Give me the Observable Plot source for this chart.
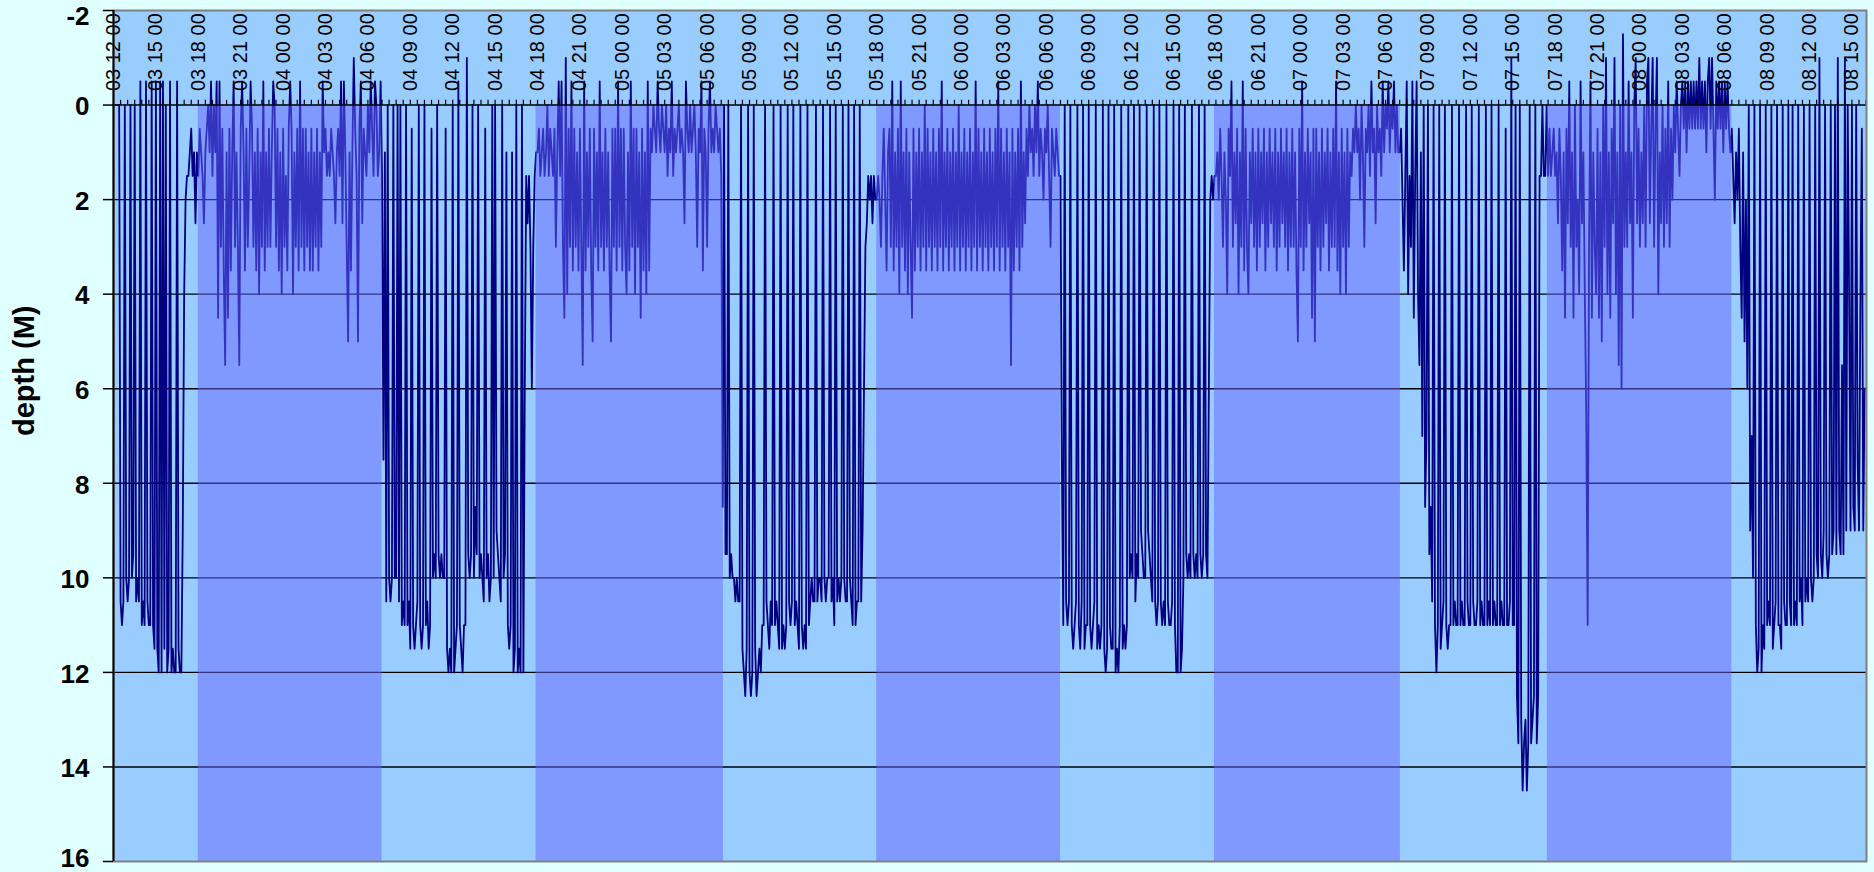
<!DOCTYPE html>
<html><head><meta charset="utf-8">
<script src="https://cdn.jsdelivr.net/npm/d3@7"></script>
<script src="https://cdn.jsdelivr.net/npm/@observablehq/plot@0.6"></script>
<style>
html,body{margin:0;padding:0;background:#E0FFFF;}
#chart{width:1874px;height:872px;}
.ylab text{font-size:29px !important;font-weight:bold !important;}
</style></head><body><div id="chart"></div>
<script>
// hours after "03 12 00"; depth samples every 0.1 h inside each segment
const STEP = 0.1;
const segA = [0,0,0,0,0,10.5,11,10.5,0,10, 10.5,10,0,10,9.5,0,10.5,10,10.5,-0.5, 11,10.5,11,-0.5,10.5,11,11,-0.5,11,11.5, -0.5,11.5,12,-0.5,12,-0.5,11.5,0,12,11.5, -0.5,12,11.5,12,12,-0.5,11.5,12,12,9, 4,2,1.5,1.5,1,0.5,1.5,1,2.5,1];
const segN1 = [1.5,0.5,1,1.5,2.5,1,0.5,0,1,-0.5, 1.5,0,1,-0.5,4.5,-0.5,3,0.5,3.5,5.5, 1,4.5,0.5,3.5,1,-0.5,3,1,3,5.5, 0.5,-0.5,1,3.5,0.5,3,1.5,-0.5,0.5,3, 1,3.5,0.5,4,1,3,-0.5,3.5,1,3, 0.5,3,1,-0.5,0,3,0.5,3.5,1,4, 0.5,3,1.5,3.5,0.5,-0.5,0.5,4,1,3, 0.5,3.5,-0.5,3,0.5,3.5,0.5,3,1,3.5, 0.5,3.5,1,3,0.5,3.5,1,3,-0.5,1, 0.5,1.5,1,1.5,0.5,1,1.5,2.5,1,0.5, 1.5,-0.5,2.5,-0.5,1,3,5,1,3.5,1, -1,0.5,1.5,5,0.5,-0.5,2.5,0.5,1,1.5, 0,1,-0.5,0.5,1.5,-0.5,0,1.5,1,-0.5];
const segB = [1.5,7.5,1,10.5,0,10,10.5,10,0,10, 10,0,10.5,0,11,10.5,11,0,11,10.5, 11.5,0.5,11,11.5,11,10.5,0,11,11.5,11, 0,11,10.5,11.5,11,0.5,10,9.5,10,0, 9.5,10,9.5,10,10,0.5,11.5,12,11.5,12, 0,12,11.5,11,-0.5,11,11.5,12,11,11, -1,9.5,10,9.5,0,10,8.5,9.5,0,10, 9.5,10,10.5,0.5,10,9.5,10.5,10,0,10, 0,9,9.5,10,10.5,0,10,9.5,1,11, 11.5,11,1,12,11.5,0,12,11.5,12,0, 12,6,1.5,2.5,1.5,3,6,3,1.5,1];
const segN2 = [1,0.5,1.5,1,0.5,1.5,1,0,1.5,0.5, 1,1.5,0.5,3,1,-0.5,1.5,-0.5,3,4.5, -1,4,0.5,3,-0.5,3.5,0.5,3,1,3.5, 0.5,3,5.5,-0.5,3.5,1,3,0.5,3.5,5, 0.5,3,1,3.5,-0.5,3,1,3.5,0.5,3, 1,3.5,5,0.5,3,0.5,3.5,-0.5,3,0.5, 3.5,0.5,3,4,1,3.5,-0.5,3,0.5,4, 0.5,3,1,4.5,0.5,3.5,1,4,-0.5,3.5, 0.5,1,0,0.5,1,-0.5,0.5,1,0,0.5, 1,0,1.5,0.5,1,-0.5,1.5,0.5,1,0.5, 0,1,0.5,1,2.5,-0.5,0.5,1,0,1, 0.5,0,1,3,0.5,1,-0.5,3.5,0.5,1, 3,0.5,-0.5,1,0.5,1,0,0.5,1,0.5];
const segC = [1.5,8.5,0,9.5,9.5,0,10,9.5,10,10, 10.5,10,10.5,10.5,0,11.5,12,12.5,11.5,0, 12,12.5,12,0,11.5,12.5,12,11.5,12,11, 11,0,10.5,11,11.5,10.5,11,0,11,10.5, 11,11.5,0,11.5,11,11.5,11,0,10.5,11, 10.5,0,11,10.5,11,11.5,0,11,11.5,11, 11.5,0,11,10.5,10,10.5,10.5,0,10.5,10, 10,10.5,0,10,10.5,10,10,0,10.5,10, 11,0,10.5,10,10.5,10,0,10,10.5,10.5, 0,10,10.5,11,0,11,10.5,10.5,0,10.5, 9,6,3,2.5,1.5,2,1.5,2.5,1.5,2];
const segN3 = [2,1.5,2,3,1.5,0.5,2,3.5,1,0.5, 3,-0.5,3.5,1,3,0.5,4,-0.5,3,1, 3.5,0.5,4,1,3,4.5,0.5,3.5,1,3, 0.5,3.5,1,3,0,3.5,0.5,3,1,3.5, 0.5,3,1,3.5,0.5,3,-0.5,3.5,1,3, 0.5,3.5,1,3,0.5,3.5,1,3,0,3.5, 1,3,0.5,3.5,1,3,0.5,3.5,1,3, -0.5,3.5,0.5,3,1,3.5,0.5,3,1,3.5, 0.5,3,1,3.5,0.5,3,-0.5,3.5,0.5,3, 1,3.5,0.5,3,1,5.5,0.5,3.5,1,3, 0.5,3.5,-0.5,3,1,2.5,0.5,1.5,0,1, 0.5,1.5,0,1,-0.5,1.5,0.5,1,2,0.5, 1,0,1.5,3,0.5,1,1.5,0.5,1,1.5];
const segD = [1.5,7.5,11,0,10.5,11,10.5,0,11,11.5, 11,10.5,0,11,11.5,10.5,0,11.5,11,11, 0,11,11.5,11,10.5,0,11.5,11,11.5,11, 0,11.5,12,11.5,0,11,11.5,11.5,0,12, 11.5,12,11,0,11.5,11,11.5,11,0,10, 9.5,10,0,10.5,9.5,10,0,9,9.5,10, 10,0,9,9.5,10,10.5,0,10.5,11,10.5, 0,10.5,11,10.5,11,0,10.5,11,11,10.5, 0,11,12,12,0,12,11.5,10,0,9.5, 10,9.5,10,0,9.5,10,9.5,10,0,9.5, 10,9.5,0,9.5,10,6,2,1.5,2,1.5];
const segN4 = [1.5,1,2,0.5,1.5,3,1,2,4,0.5, 1.5,-0.5,3,1,2.5,0.5,4,1,3,-0.5, 3.5,0.5,3,4,1,2.5,0.5,3,1,3.5, 0.5,3,1,2.5,0.5,3.5,1,3,0.5,2.5, 1,3,0.5,3.5,1,3,0.5,2.5,1,3, 0.5,3.5,1,3,0.5,3,1,3.5,5,0.5, 3,-0.5,3.5,1,3,0.5,2.5,1,4.5,0.5, 5,0.5,3,1,3.5,0.5,3,1,2.5,0.5, 3.5,1,3,0.5,3,-0.5,3.5,1,4,0.5, 3,1,4,0.5,3,1,1.5,0.5,1,0, 1,0.5,2,0,1,3,0.5,1,0,1.5, -0.5,1,0.5,2.5,0,1,0.5,1.5,-0.5,1, 0,0.5,-0.5,1,0,0.5,-0.5,1,0,1];
const segE = [1,0.5,2,3.5,1.5,-0.5,4,1.5,3,-0.5, 4.5,1.5,-0.5,4,5.5,1,7,0,8.5,7, 0,9.5,8.5,10.5,0,11,12,11,0,11.5, 11,10.5,0,11,11.5,11,11,0,11,10.5, 11,11,0,11,10.5,11,11,0,10.5,11, 11,0,10.5,11,11,10.5,0,11,10.5,11, 11,0,11,10.5,11,0,11,10.5,11,11, 0,11,10.5,11,11,0.5,11,11,10.5,-1, 11,11,0,12.5,13.5,0,13,14.5,13.5,13, 14.5,13.5,0,13.5,13,12.5,0,13.5,12.5,1.5, 1.5,0,1.5,1.5,0];
const segN5 = [1.5,0.5,1.5,1,0.5, 1.5,1,2.5,0.5,1.5,3.5,1,4.5,0.5,2.5, -0.5,3,1,4.5,0,3,2,4,-0.5,2.5, 1,4,6.5,11,3,-0.5,4.5,1,3,4, 0.5,4.5,1,5,0,3,-1,4,1,4.5, 0.5,2.5,-1,4,1,5.5,0,6,-1.5,3, 1,3,-0.5,2.5,1,4.5,0,-1,2.5,0.5, 3,1,2.5,0,3,-0.5,-1,2.5,0.5,-1, 3,0.5,-1,4,1,2.5,0,3,0.5,2.5, -0.5,3,0.5,2,0,1,-0.5,0.5,1.5,0, -0.5,0.5,-0.5,1,-0.5,0.5,-0.5,0.5,-0.5,0.5, -0.5,0.5,-1,0.5,-0.5,0.5,-0.5,1,-0.5,-1, 0.5,-1,0.5,2,-0.5,0.5,-0.5,0.5,-0.5,1, -0.5,0.5,-0.5,0.5,1];
const segF = [0.5,1.5,2.5,1,2, 0.5,3,4.5,1,5,2,6,0,9,7, 10,0,11,12,11.5,0,12,11,11.5,0, 11,10.5,11,0,11.5,11,10.5,0,11,11, 11.5,0,10.5,11,11,0,10.5,11,0,11, 10.5,11,0,10.5,10,11,0,10.5,10,10.5, 0,10,10.5,10,0,9.5,10,-1,9.5,10, 9,0,9.5,10,9.5,0,9.5,9,0,9.5, -1,9,9.5,5.5,9.5,-1,9,0,4,9, 0,8.5,9,0,7.5,9,4,0.5,9,6, 6];
const segStarts = [0, 6, 19, 30, 43, 54, 67, 78, 91, 101.5, 114.5];
const segValues = [segA, segN1, segB, segN2, segC, segN3, segD, segN4, segE, segN5, segF];

// night shading (hours after 03 12 00)
const nightStart = [6.0, 29.9, 54.0, 77.9, 101.45];
const nightEnd = [19.0, 43.15, 67.0, 91.05, 114.5];

// category labels every 3 hours
const xLabels = ["03 12 00","03 15 00","03 18 00","03 21 00","04 00 00","04 03 00","04 06 00","04 09 00","04 12 00","04 15 00","04 18 00","04 21 00","05 00 00","05 03 00","05 06 00","05 09 00","05 12 00","05 15 00","05 18 00","05 21 00","06 00 00","06 03 00","06 06 00","06 09 00","06 12 00","06 15 00","06 18 00","06 21 00","07 00 00","07 03 00","07 06 00","07 09 00","07 12 00","07 15 00","07 18 00","07 21 00","08 00 00","08 03 00","08 06 00","08 09 00","08 12 00","08 15 00"];
const yTicks = [-2,0,2,4,6,8,10,12,14,16];
const gridValues = [2,4,6,8,10,12,14];
const yLabel = "depth (M)";

const series = segStarts.flatMap((s, k) => segValues[k].map((d, i) => ({t: s + i*STEP, d})));
const nights = nightStart.map((s, i) => ({s, e: nightEnd[i]}));
const labelData = xLabels.map((label, i) => ({t: i*3, label}));
const minorTicks = d3.range(0, 124.01, 0.5);
const yTop = yTicks.filter(v => v === -2), yBottom = yTicks.filter(v => v === 16), yMid = yTicks.filter(v => v > -2 && v < 16);

const FONT = "Liberation Sans, Arial, Helvetica, sans-serif";
const tickText = (vals, dy) => Plot.text(vals, {y: d => d, text: d => String(d), frameAnchor: "left", dx: -24, dy, textAnchor: "end", fontSize: 26, fontWeight: "bold", fill: "#000", fontFamily: FONT});
const chart = Plot.plot({
  width: 1874, height: 872,
  marginLeft: 113, marginRight: 8, marginTop: 10, marginBottom: 11,
  style: {background: "#E0FFFF", fontFamily: FONT, overflow: "visible"},
  x: {domain: [0, 124.03], axis: null},
  y: {domain: [-2, 16], reverse: true, axis: null},
  marks: [
    Plot.frame({fill: "#99CCFF", stroke: null}),
    Plot.ruleY(gridValues, {stroke: "#000", strokeWidth: 1.4}),
    Plot.line(series, {x: "t", y: "d", stroke: "#000080", strokeWidth: 1.8, strokeLinejoin: "round"}),
    Plot.rect(nights, {x1: "s", x2: "e", y1: () => 0, y2: () => 16, fill: "#6666FF", fillOpacity: 0.5}),
    Plot.ruleY([0], {stroke: "#000", strokeWidth: 1.5}),
    Plot.ruleX(minorTicks, {x: d => d, y1: () => 0, y2: () => -0.1, stroke: "#000", strokeWidth: 1.2}),
    Plot.text(labelData, {x: "t", y: () => 0, text: "label", rotate: -90, textAnchor: "start", dy: -14, fontSize: 20, fill: "#000", fontFamily: FONT}),
    Plot.frame({stroke: "#808080", strokeWidth: 2}),
    Plot.ruleX([0], {stroke: "#000", strokeWidth: 2}),
    Plot.ruleY(yTicks, {y: d => d, x1: () => -0.71, x2: () => 0, stroke: "#000", strokeWidth: 1.5}),
    tickText(yMid, 2),
    tickText(yTop, 6),
    tickText(yBottom, -3),
    Plot.text([yLabel], {frameAnchor: "left", dx: -89, rotate: -90, fontSize: 29, fontWeight: "bold", fill: "#000", fontFamily: FONT, className: "ylab"})
  ]
});
document.getElementById("chart").appendChild(chart);
</script>
</body></html>
